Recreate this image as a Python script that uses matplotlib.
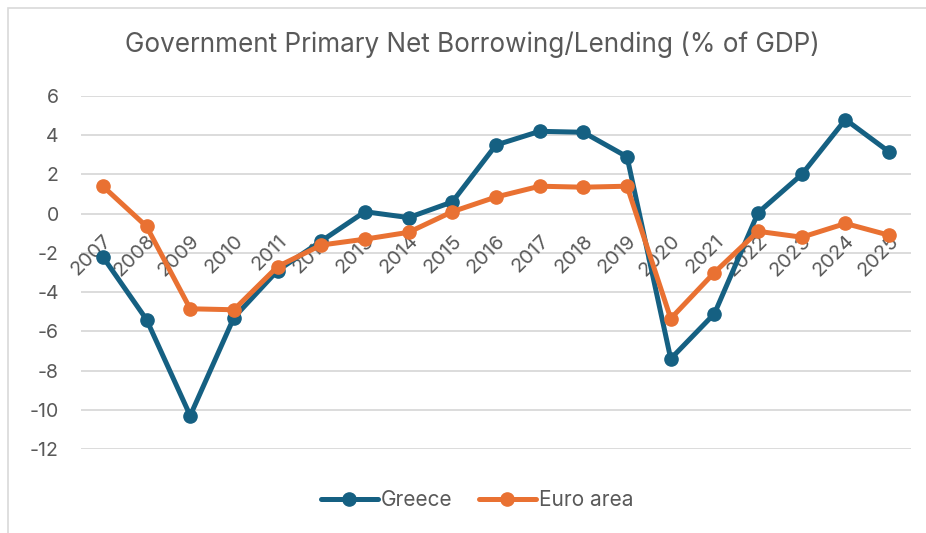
import matplotlib
matplotlib.use("Agg")
import matplotlib.pyplot as plt
from matplotlib.patches import Rectangle
from matplotlib.lines import Line2D

plt.rcParams["font.family"] = ["Inter", "DejaVu Sans"]

years = [str(y) for y in range(2007, 2026)]
greece = [-2.2, -5.4, -10.3, -5.3, -2.9, -1.4, 0.1, -0.2, 0.6, 3.5,
          4.2, 4.15, 2.9, -7.4, -5.1, 0.05, 2.0, 4.8, 3.15]
euro_area = [1.4, -0.65, -4.85, -4.9, -2.7, -1.6, -1.3, -0.95, 0.1, 0.85,
             1.4, 1.35, 1.4, -5.35, -3.0, -0.9, -1.2, -0.5, -1.1]
yticks = [6, 4, 2, 0, -2, -4, -6, -8, -10, -12]

GREECE_COLOR = "#156082"
EURO_COLOR = "#E97132"
TEXT_COLOR = "#595959"
GRID_COLOR = "#D9D9D9"

fig = plt.figure(figsize=(9.26, 5.33), dpi=100)
ax = fig.add_axes([81 / 926, 1 - 449 / 533, 830 / 926, 353 / 533])

x = list(range(len(years)))
ax.plot(x, greece, color=GREECE_COLOR, lw=3.6, marker="o", ms=9.5, zorder=3,
        solid_capstyle="round", label="Greece")
ax.plot(x, euro_area, color=EURO_COLOR, lw=3.6, marker="o", ms=9.5, zorder=4,
        solid_capstyle="round", label="Euro area")

ax.set_xlim(-0.5, len(years) - 0.5)
ax.set_ylim(-12, 6)
ax.set_yticks(yticks)
ax.set_yticklabels([str(t) for t in yticks])
ax.yaxis.grid(True, color=GRID_COLOR, lw=1.3)
ax.set_axisbelow(True)
ax.tick_params(axis="y", length=0, pad=16, labelsize=14, labelcolor=TEXT_COLOR)
ax.set_xticks([])
for side in ax.spines.values():
    side.set_visible(False)

# category labels sit just under the zero line, rotated like the spreadsheet axis
for i, label in enumerate(years):
    ax.annotate(label, xy=(i, 0), xytext=(0, -13), textcoords="offset points",
                rotation=45, ha="right", va="top", rotation_mode="anchor",
                fontsize=14.5, color=TEXT_COLOR, zorder=2)

fig.text(0.510, 1 - 45 / 533, "Government Primary Net Borrowing/Lending (% of GDP)",
         ha="center", va="center", fontsize=18.8, color=TEXT_COLOR)

handles = [
    Line2D([], [], color=GREECE_COLOR, lw=3.6, marker="o", ms=9.5, solid_capstyle="round"),
    Line2D([], [], color=EURO_COLOR, lw=3.6, marker="o", ms=9.5, solid_capstyle="round"),
]
fig.legend(handles, ["Greece", "Euro area"], loc="center", bbox_to_anchor=(477 / 926, 1 - 500 / 533),
           ncol=2, frameon=False, fontsize=15, labelcolor=TEXT_COLOR,
           handlelength=2.75, handletextpad=0.15, columnspacing=1.25)

# thin frame around the chart area
fig.add_artist(Rectangle((7.5 / 926, -0.05), 1.0, 1 - 7.5 / 533 + 0.05, transform=fig.transFigure,
                         fill=False, edgecolor=GRID_COLOR, lw=1.2))

fig.savefig("out.png", dpi=100, facecolor="white")
